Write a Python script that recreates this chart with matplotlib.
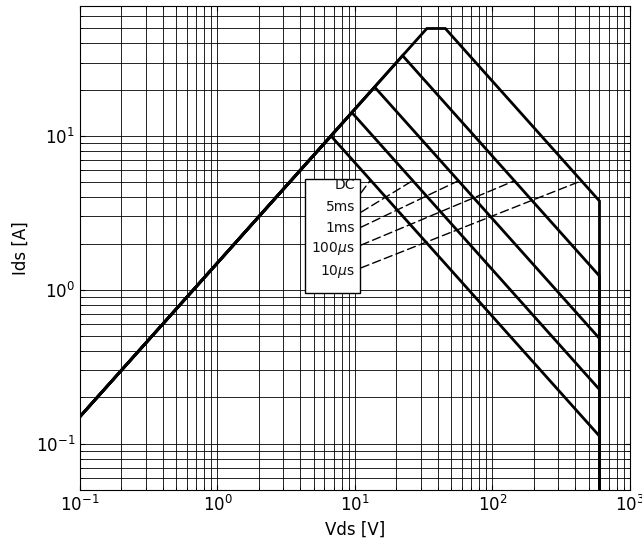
# import libraries
import matplotlib
matplotlib.use('Agg')
import matplotlib.pyplot as plt
from matplotlib.patches import Rectangle

plt.rcParams['axes.unicode_minus'] = False

# SOA curves: vertices (Vds [V], Ids [A])
dc_v    = [0.1, 6.7, 600, 600]
dc_i    = [0.15, 10.0, 0.112, 0.05]
ms5_v   = [0.1, 9.5, 600, 600]
ms5_i   = [0.15, 14.2, 0.225, 0.05]
ms1_v   = [0.1, 13.9, 600, 600]
ms1_i   = [0.15, 20.8, 0.483, 0.05]
us100_v = [0.1, 22.2, 600, 600]
us100_i = [0.15, 33.3, 1.23, 0.05]
us10_v  = [0.1, 33.3, 45.4, 600, 600]
us10_i  = [0.15, 50.0, 50.0, 3.78, 0.05]

# labels and where their dashed pointers hit each curve
labels   = ['DC', '5ms', '1ms', r'100$\mu$s', r'10$\mu$s']
ptr_v    = [12.8, 26.0, 56.0, 143.0, 440.0]
ptr_i    = [5.1, 5.1, 5.1, 5.1, 5.1]

# label layout (axes fraction)
lab_y    = [0.630, 0.584, 0.541, 0.498, 0.452]
ptr_y    = [0.614, 0.574, 0.543, 0.506, 0.459]

fig = plt.figure(figsize=(6.42, 5.52), dpi=100)
ax = fig.add_axes([0.1246, 0.1123, 0.8567, 0.8768])

curves = [(dc_v, dc_i), (ms5_v, ms5_i), (ms1_v, ms1_i),
          (us100_v, us100_i), (us10_v, us10_i)]
for v, i in curves:
    ax.plot(v, i, color='k', lw=2, solid_joinstyle='miter')

ax.set_xscale('log')
ax.set_yscale('log')
ax.set_xlim(0.1, 1000)
ax.set_ylim(0.05, 70)

ax.grid(True, which='both', color='k', linestyle='-', lw=0.6)
ax.tick_params(which='both', direction='in', top=True, right=True, labelsize=12)

# label box and dashed pointers
ax.add_patch(Rectangle((0.409, 0.407), 0.100, 0.236, transform=ax.transAxes,
                       facecolor='white', edgecolor='k', lw=1, zorder=5))
for lab, ly, py, v, i in zip(labels, lab_y, ptr_y, ptr_v, ptr_i):
    ax.text(0.500, ly, lab, transform=ax.transAxes, ha='right', va='center',
            fontsize=10, color='#111111', zorder=6)
    ax.annotate('', xy=(v, i), xycoords='data',
                xytext=(0.511, py), textcoords='axes fraction',
                arrowprops=dict(arrowstyle='-', linestyle=(0, (6, 3)), lw=1,
                                color='k', shrinkA=0, shrinkB=0))

ax.set_xlabel('Vds [V]', fontsize=12)
ax.set_ylabel('Ids [A]', fontsize=12)

plt.savefig('out.png', dpi=100)
